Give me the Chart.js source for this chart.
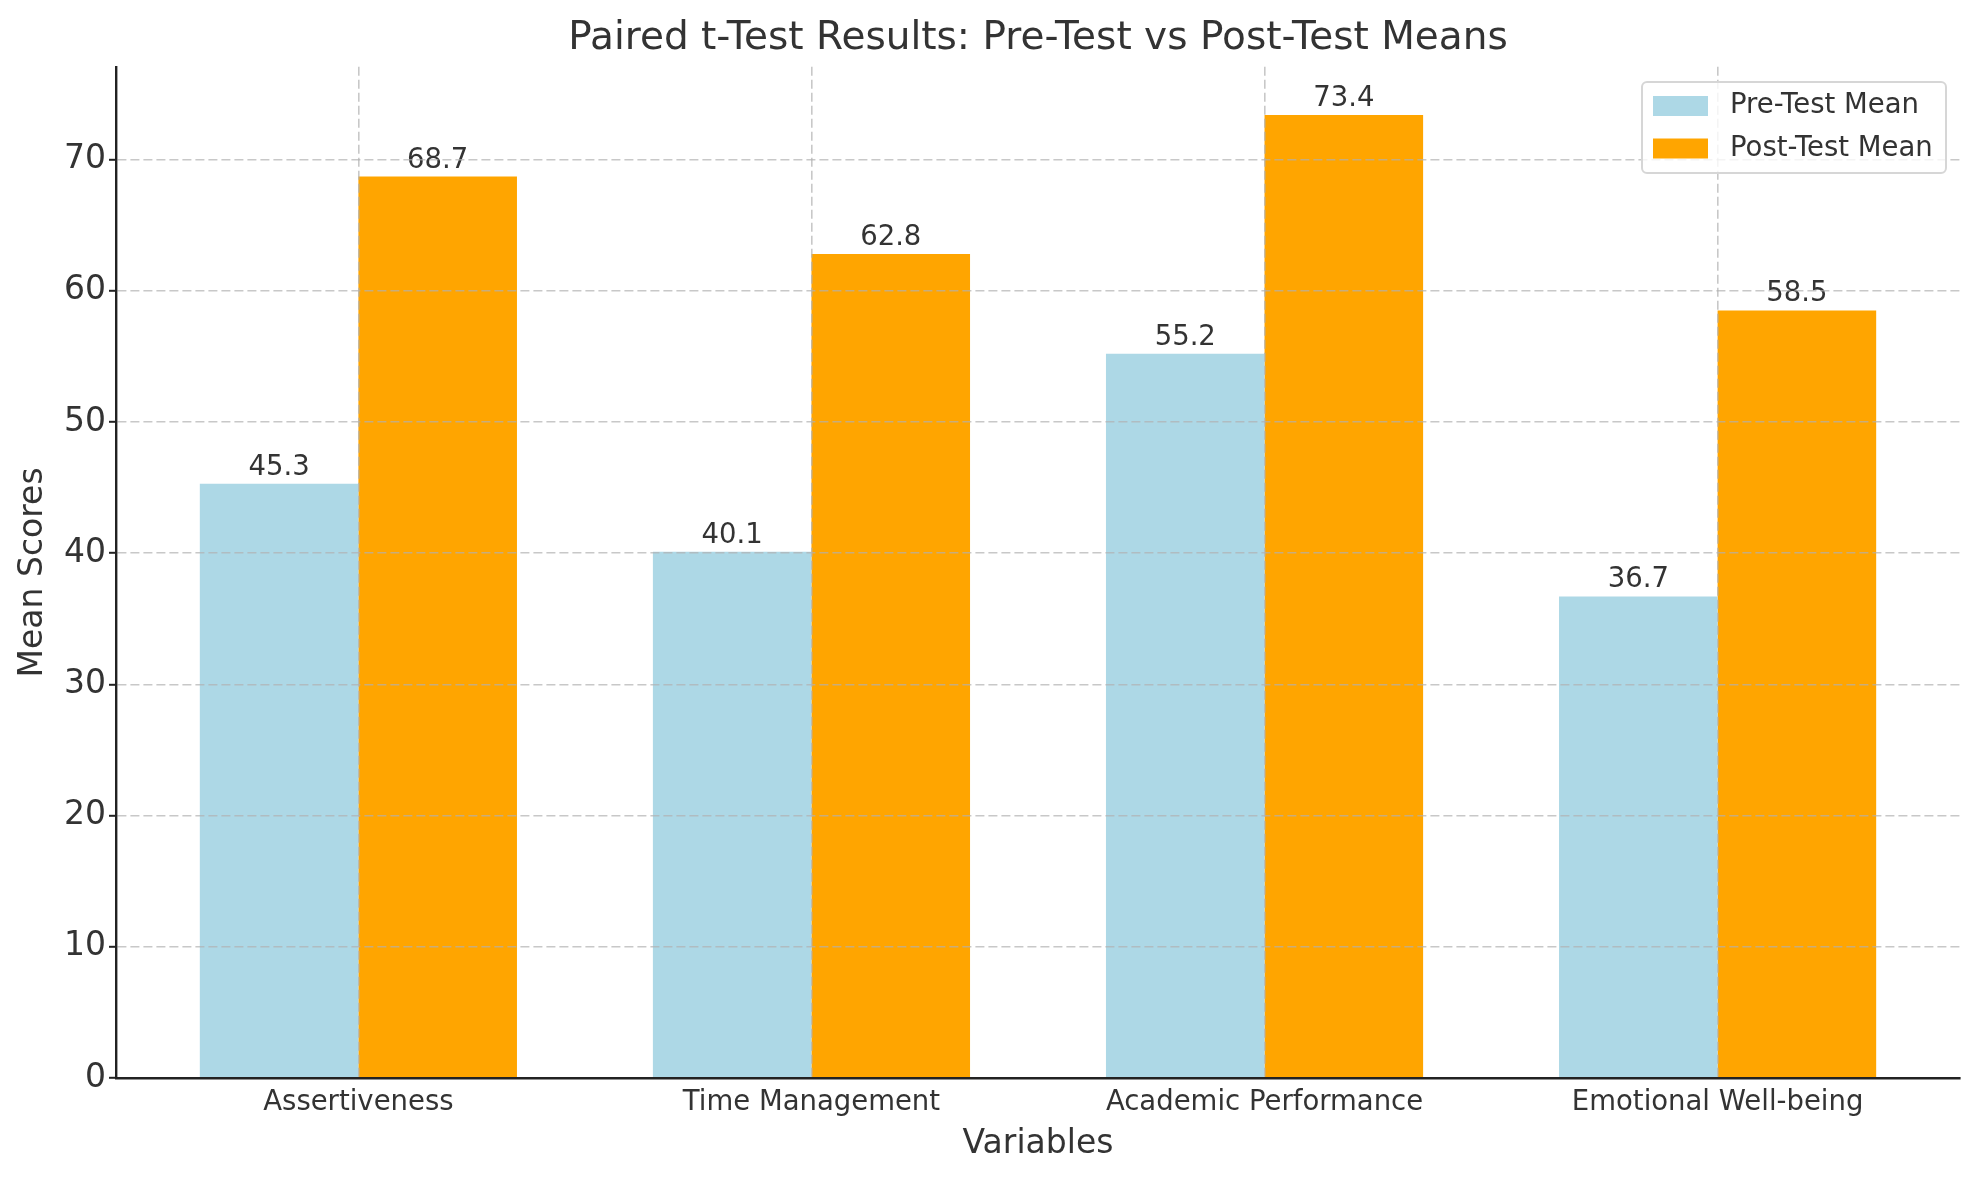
<!DOCTYPE html>
<html>
<head>
<meta charset="utf-8">
<script src="https://cdn.jsdelivr.net/npm/chart.js@4/dist/chart.umd.min.js"></script>
<style>
    body { margin: 0; background: #ffffff; overflow: hidden; }
    canvas { display: block; }
</style>
</head>
<body>
<canvas id="grafico" width="1979" height="1180"></canvas>
<script>
const categorias = ["Assertiveness", "Time Management", "Academic Performance", "Emotional Well-being"];
const preTeste = [45.3, 40.1, 55.2, 36.7];
const posTeste = [68.7, 62.8, 73.4, 58.5];
const nomesSeries = ["Pre-Test Mean", "Post-Test Mean"];
const coresSeries = ["#ADD8E6", "#FFA500"];

const fonte = "DejaVu Sans";
const corTexto = "#333333";

// pontos {x: indice, y: valor} para o eixo x linear
function pontos(valores) {
    return valores.map((v, i) => ({ x: i, y: v }));
}

const maiorValor = Math.max(...preTeste, ...posTeste);

// rótulos em cima de cada barra
const rotulosBarras = {
    id: "rotulosBarras",
    afterDatasetsDraw(chart) {
        const ctx = chart.ctx;
        ctx.save();
        ctx.font = "27.5px '" + fonte + "'";
        ctx.fillStyle = corTexto;
        ctx.textAlign = "center";
        ctx.textBaseline = "alphabetic";
        chart.data.datasets.forEach((ds, di) => {
            const meta = chart.getDatasetMeta(di);
            meta.data.forEach((bar, i) => {
                ctx.fillText(ds.data[i].y.toFixed(1), bar.x, bar.y - 9);
            });
        });
        ctx.restore();
    }
};

// legenda dentro da área do gráfico, canto superior direito
const legendaInterna = {
    id: "legendaInterna",
    afterDraw(chart) {
        const ctx = chart.ctx;
        const x0 = 1642, y0 = 82, w = 304, h = 91;
        ctx.save();
        ctx.beginPath();
        ctx.roundRect(x0, y0, w, h, 5);
        ctx.fillStyle = "rgba(255,255,255,0.8)";
        ctx.fill();
        ctx.lineWidth = 2;
        ctx.strokeStyle = "#d6d6d6";
        ctx.stroke();

        ctx.font = "27.5px '" + fonte + "'";
        ctx.textAlign = "left";
        ctx.textBaseline = "middle";
        chart.data.datasets.forEach((ds, i) => {
            const cy = y0 + 24 + i * 42.5;
            ctx.fillStyle = ds.backgroundColor;
            ctx.fillRect(x0 + 11, cy - 10, 55, 20);
            ctx.fillStyle = corTexto;
            ctx.fillText(ds.label, x0 + 88, cy);
        });
        ctx.restore();
    }
};

const ctx = document.getElementById("grafico").getContext("2d");

const grafico = new Chart(ctx, {
    type: "bar",
    data: {
        datasets: [
            {
                label: nomesSeries[0],
                data: pontos(preTeste),
                backgroundColor: coresSeries[0],
                borderWidth: 0
            },
            {
                label: nomesSeries[1],
                data: pontos(posTeste),
                backgroundColor: coresSeries[1],
                borderWidth: 0
            }
        ]
    },
    options: {
        responsive: false,
        devicePixelRatio: 1,
        animation: false,
        categoryPercentage: 0.7,
        barPercentage: 1.0,
        layout: { padding: { left: 0, right: 19, top: 0, bottom: 0 } },
        plugins: {
            legend: { display: false },
            tooltip: { enabled: false },
            title: {
                display: true,
                fullSize: false,
                text: "Paired t-Test Results: Pre-Test vs Post-Test Means",
                color: corTexto,
                font: { family: fonte, size: 39, weight: "normal" },
                padding: { top: 15, bottom: 5 }
            }
        },
        scales: {
            x: {
                type: "linear",
                min: -0.535,
                max: 3.535,
                offset: false,
                afterBuildTicks(axis) {
                    axis.ticks = categorias.map((c, i) => ({ value: i }));
                },
                afterFit(scale) { scale.height = 102; },
                ticks: {
                    color: corTexto,
                    font: { family: fonte, size: 27.5 },
                    padding: 8.5,
                    maxRotation: 0,
                    autoSkip: false,
                    callback: (value, index) => categorias[index]
                },
                grid: {
                    offset: false,
                    color: "rgba(176,176,176,0.7)",
                    lineWidth: 1.6,
                    drawTicks: false,
                    z: 1
                },
                border: {
                    color: "#222222",
                    width: 2.4,
                    dash: [9, 4],
                    z: 2
                },
                title: {
                    display: true,
                    text: "Variables",
                    color: corTexto,
                    font: { family: fonte, size: 33 },
                    padding: { top: 0, bottom: 16 }
                }
            },
            y: {
                min: 0,
                max: maiorValor * 1.05,
                afterFit(scale) { scale.width = 116; },
                ticks: {
                    stepSize: 10,
                    includeBounds: false,
                    color: corTexto,
                    font: { family: fonte, size: 33 },
                    padding: 3
                },
                grid: {
                    color: "rgba(176,176,176,0.7)",
                    lineWidth: 1.6,
                    drawTicks: true,
                    tickLength: 7,
                    tickColor: "#222222",
                    tickWidth: 2,
                    tickBorderDash: [],
                    z: 1
                },
                border: {
                    color: "#222222",
                    width: 2.4,
                    dash: [9, 4],
                    z: 2
                },
                title: {
                    display: true,
                    text: "Mean Scores",
                    color: corTexto,
                    font: { family: fonte, size: 33 },
                    padding: { top: 14, bottom: 0 }
                }
            }
        }
    },
    plugins: [rotulosBarras, legendaInterna]
});
</script>
</body>
</html>
